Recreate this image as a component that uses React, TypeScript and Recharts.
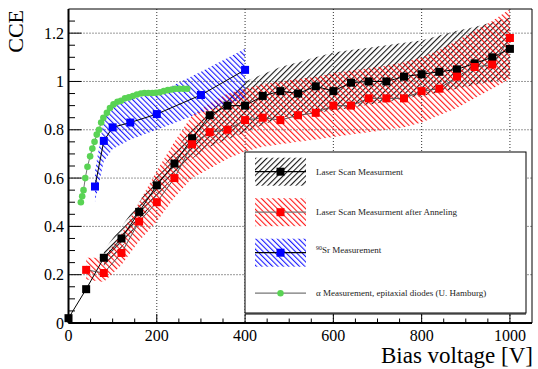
import React from "react";
import {
  ComposedChart,
  Line,
  Area,
  XAxis,
  YAxis,
  CartesianGrid,
  ReferenceArea,
} from "recharts";

// laser scan (before annealing)
const laserVolts = [0, 40, 80, 120, 160, 200, 240, 280, 320, 360, 400, 440, 480, 520, 560, 600, 640, 680, 720, 760, 800, 840, 880, 920, 960, 1000];
const laserCce = [0.02, 0.14, 0.27, 0.35, 0.46, 0.57, 0.66, 0.765, 0.86, 0.9, 0.9, 0.94, 0.96, 0.95, 0.98, 0.96, 0.995, 1.0, 1.0, 1.02, 1.03, 1.04, 1.05, 1.075, 1.1, 1.135];
// error band starts at 80 V
const laserBandVolts = [80, 120, 160, 200, 240, 280, 320, 360, 400, 440, 480, 520, 560, 600, 640, 680, 720, 760, 800, 840, 880, 920, 960, 1000];
const laserLow = [0.23, 0.31, 0.42, 0.52, 0.61, 0.68, 0.73, 0.76, 0.79, 0.82, 0.85, 0.86, 0.87, 0.88, 0.89, 0.905, 0.915, 0.93, 0.94, 0.955, 0.97, 0.985, 1.0, 1.01];
const laserHigh = [0.3, 0.4, 0.5, 0.61, 0.71, 0.81, 0.88, 0.93, 1.0, 1.03, 1.06, 1.08, 1.1, 1.12, 1.13, 1.14, 1.15, 1.16, 1.17, 1.19, 1.21, 1.225, 1.245, 1.265];

// laser scan after annealing
const annealVolts = [40, 80, 120, 160, 200, 240, 280, 320, 360, 400, 440, 480, 520, 560, 600, 640, 680, 720, 760, 800, 840, 880, 920, 960, 1000];
const annealCce = [0.22, 0.207, 0.29, 0.42, 0.5, 0.6, 0.74, 0.79, 0.8, 0.84, 0.85, 0.84, 0.86, 0.87, 0.9, 0.9, 0.93, 0.93, 0.93, 0.96, 0.97, 1.02, 1.06, 1.07, 1.18];
const annealLow = [0.18, 0.17, 0.24, 0.34, 0.42, 0.52, 0.6, 0.64, 0.68, 0.71, 0.73, 0.74, 0.75, 0.76, 0.77, 0.78, 0.79, 0.8, 0.81, 0.83, 0.86, 0.89, 0.93, 0.97, 1.01];
const annealHigh = [0.27, 0.27, 0.37, 0.5, 0.63, 0.75, 0.86, 0.91, 0.95, 0.97, 0.99, 1.0, 1.01, 1.02, 1.035, 1.045, 1.055, 1.065, 1.08, 1.1, 1.13, 1.17, 1.21, 1.25, 1.3];

// 90Sr source
const srVolts = [60, 80, 100, 140, 200, 300, 400];
const srCce = [0.565, 0.754, 0.81, 0.83, 0.865, 0.944, 1.048];
const srLow = [0.5, 0.67, 0.72, 0.76, 0.8, 0.87, 0.93];
const srHigh = [0.63, 0.84, 0.9, 0.925, 0.95, 1.04, 1.135];

// alpha, epitaxial diodes (U. Hamburg)
const alphaVolts = [28, 31, 34, 38, 43, 49, 54, 59, 64, 69, 74, 79, 87, 94, 102, 111, 119, 128, 137, 146, 155, 164, 172, 181, 190, 198, 207, 216, 225, 234, 243, 251, 260, 269];
const alphaCce = [0.5, 0.525, 0.55, 0.6, 0.647, 0.69, 0.722, 0.75, 0.78, 0.8, 0.83, 0.85, 0.87, 0.89, 0.905, 0.916, 0.92, 0.93, 0.934, 0.94, 0.946, 0.95, 0.952, 0.952, 0.952, 0.953, 0.955, 0.96, 0.964, 0.967, 0.97, 0.97, 0.97, 0.97];

const xMajor = [0, 200, 400, 600, 800, 1000];
const yMajor = [0, 0.2, 0.4, 0.6, 0.8, 1, 1.2];
const xTicks = Array.from({ length: 21 }, (_, i) => i * 50);
const yTicks = Array.from({ length: 26 }, (_, i) => Math.round(i * 5) / 100);

const laserData = laserVolts.map((v, i) => ({ v, cce: laserCce[i] }));
const laserBand = laserBandVolts.map((v, i) => ({ v, band: [laserLow[i], laserHigh[i]] }));
const annealData = annealVolts.map((v, i) => ({ v, cce: annealCce[i], band: [annealLow[i], annealHigh[i]] }));
const srData = srVolts.map((v, i) => ({ v, cce: srCce[i], band: [srLow[i], srHigh[i]] }));
const alphaData = alphaVolts.map((v, i) => ({ v, cce: alphaCce[i] }));

const W = 538;
const H = 369;
const PLOT = { left: 68.5, top: 9, right: 532, bottom: 323 };
const FONT = "'Liberation Serif', 'Times New Roman', serif";
const GREEN = "#59d354";

const isMajor = (v: number, list: number[]) => list.some((m) => Math.abs(m - v) < 1e-6);

const renderYTick = (p: any) => {
  const val = p.payload.value;
  const major = isMajor(val, yMajor);
  return (
    <g key={`yt-${val}`}>
      <line x1={PLOT.left} x2={PLOT.left + (major ? 13 : 6.5)} y1={p.y} y2={p.y} stroke="#000" />
      {major && (
        <text x={PLOT.left - 4.5} y={p.y} dy={5.5} textAnchor="end" fontSize={16} fontFamily={FONT} fill="#000">
          {String(Math.round(val * 10) / 10)}
        </text>
      )}
    </g>
  );
};

const renderXTick = (p: any) => {
  const val = p.payload.value;
  const major = isMajor(val, xMajor);
  return (
    <g key={`xt-${val}`}>
      <line x1={p.x} x2={p.x} y1={PLOT.bottom} y2={PLOT.bottom - (major ? 9 : 4.5)} stroke="#000" />
      {major && (
        <text x={p.x} y={PLOT.bottom + 18} textAnchor="middle" fontSize={16} fontFamily={FONT} fill="#000">
          {val}
        </text>
      )}
    </g>
  );
};

const squareDot = (fill: string, size = 8) => (p: any) => (
  <rect key={`sq-${fill}-${p.index}`} x={p.cx - size / 2} y={p.cy - size / 2} width={size} height={size} fill={fill} />
);

const circleDot = (fill: string, r = 3.3) => (p: any) => (
  <circle key={`c-${p.index}`} cx={p.cx} cy={p.cy} r={r} fill={fill} />
);

function HatchDefs({ prefix }: { prefix: string }) {
  return (
    <defs>
      <pattern id={`${prefix}-black`} width={4} height={4} patternUnits="userSpaceOnUse" patternTransform="rotate(45)">
        <line x1={0.6} y1={0} x2={0.6} y2={4} stroke="#000" strokeWidth={1} />
      </pattern>
      <pattern id={`${prefix}-red`} width={4} height={4} patternUnits="userSpaceOnUse" patternTransform="rotate(-45)">
        <line x1={0.6} y1={0} x2={0.6} y2={4} stroke="#ff0000" strokeWidth={1} />
      </pattern>
      <pattern id={`${prefix}-blue`} width={3.8} height={3.8} patternUnits="userSpaceOnUse" patternTransform="rotate(-45)">
        <line x1={0.6} y1={0} x2={0.6} y2={3.8} stroke="#0000ff" strokeWidth={1} />
      </pattern>
    </defs>
  );
}

const legendRows = [
  { pattern: "black", line: "#000", marker: "#000", shape: "square", label: "Laser Scan Measurment" },
  { pattern: "red", line: "#777", marker: "#ff0000", shape: "square", label: "Laser Scan Measurment after Anneling" },
  { pattern: "blue", line: "#000", marker: "#0000ff", shape: "square", label: "Sr Measurement" },
  { pattern: null, line: "#777", marker: GREEN, shape: "circle", label: "\u03b1 Measurement, epitaxial diodes (U. Hamburg)" },
];

function Overlay() {
  const box = { x: 245, y: 152, w: 281, h: 161 };
  return (
    <svg width={W} height={H} style={{ position: "absolute", left: 0, top: 0, pointerEvents: "none" }}>
      <HatchDefs prefix="lg" />
      <text transform="translate(23,10) rotate(-90)" textAnchor="end" fontSize={22} fontFamily={FONT} fill="#000">
        CCE
      </text>
      <text x={533} y={363} textAnchor="end" fontSize={23} fontFamily={FONT} fill="#000">
        Bias voltage [V]
      </text>
      <rect x={box.x} y={box.y} width={box.w} height={box.h} fill="#fff" stroke="#000" strokeWidth={1} />
      <line x1={box.x} x2={box.x + box.w} y1={box.y + box.h + 1} y2={box.y + box.h + 1} stroke="#000" strokeWidth={1} />
      {legendRows.map((r, i) => {
        const cy = box.y + 19.7 + i * 40.5;
        return (
          <g key={r.label}>
            {r.pattern && <rect x={255} y={cy - 14} width={51} height={28} fill={`url(#lg-${r.pattern})`} />}
            <line x1={255} x2={306} y1={cy} y2={cy} stroke={r.line} strokeWidth={1.2} />
            {r.shape === "square" ? (
              <rect x={276.5} y={cy - 4} width={8} height={8} fill={r.marker} />
            ) : (
              <circle cx={280.5} cy={cy} r={3.2} fill={r.marker} />
            )}
            <text x={316} y={cy} dy={3} fontSize={9} fontFamily={FONT} fill="#222">
              {i === 2 && (
                <tspan fontSize={6} dy={-3}>
                  90
                </tspan>
              )}
              {i === 2 ? <tspan dy={3}>{r.label}</tspan> : r.label}
            </text>
          </g>
        );
      })}
    </svg>
  );
}

export default function App() {
  return (
    <div style={{ position: "absolute", left: 0, top: 0, width: W, height: H, background: "#fff" }}>
      <ComposedChart
        width={W}
        height={H}
        margin={{ top: PLOT.top, right: W - PLOT.right, bottom: H - PLOT.bottom - 30, left: PLOT.left - 60 }}
      >
        <HatchDefs prefix="pl" />
        <CartesianGrid
          stroke="#333"
          strokeDasharray="1 2"
          horizontalValues={[0.2, 0.4, 0.6, 0.8, 1, 1.2]}
          verticalValues={[200, 400, 600, 800, 1000]}
        />
        <XAxis
          dataKey="v"
          type="number"
          domain={[0, 1050]}
          ticks={xTicks}
          interval={0}
          tick={renderXTick}
          tickLine={false}
          axisLine={{ stroke: "#000", strokeWidth: 2 }}
          height={30}
        />
        <YAxis
          type="number"
          domain={[0, 1.3]}
          ticks={yTicks}
          interval={0}
          tick={renderYTick}
          tickLine={false}
          axisLine={{ stroke: "#000", strokeWidth: 2 }}
          width={60}
        />
        <ReferenceArea x1={0} x2={1050} y1={0} y2={1.3} fill="none" stroke="#000" strokeWidth={1} />

        <Area data={laserBand} dataKey="band" type="linear" stroke="none" fill="url(#pl-black)" fillOpacity={1} isAnimationActive={false} />
        <Line data={laserData} dataKey="cce" type="linear" stroke="#000" strokeWidth={1} dot={squareDot("#000")} activeDot={false} isAnimationActive={false} />

        <Area data={annealData} dataKey="band" type="linear" stroke="none" fill="url(#pl-red)" fillOpacity={1} isAnimationActive={false} />
        <Line data={annealData} dataKey="cce" type="linear" stroke="#555" strokeWidth={1} dot={squareDot("#ff0000")} activeDot={false} isAnimationActive={false} />

        <Area data={srData} dataKey="band" type="linear" stroke="none" fill="url(#pl-blue)" fillOpacity={1} isAnimationActive={false} />
        <Line data={srData} dataKey="cce" type="linear" stroke="#000" strokeWidth={1} dot={squareDot("#0000ff")} activeDot={false} isAnimationActive={false} />

        <Line data={alphaData} dataKey="cce" type="linear" stroke="#777" strokeWidth={1} dot={circleDot(GREEN)} activeDot={false} isAnimationActive={false} />
      </ComposedChart>
      <Overlay />
    </div>
  );
}
